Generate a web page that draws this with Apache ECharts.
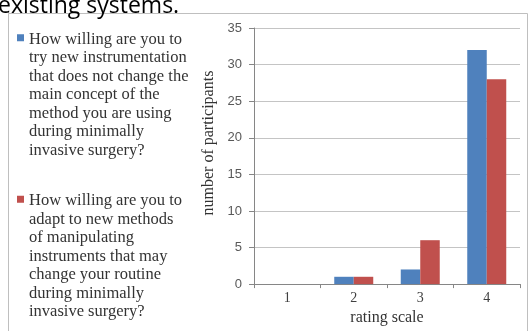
<!DOCTYPE html>
<html>
<head>
<meta charset="utf-8">
<style>
  html, body { margin: 0; padding: 0; background: #fff; }
  #chart { width: 531px; height: 331px; }
</style>
<script src="https://cdn.jsdelivr.net/npm/echarts@6/dist/echarts.min.js"></script>
</head>
<body>
<div id="chart"></div>
<script>
  // rating categories on the x axis
  const categories = ['1', '2', '3', '4']
  // number of participants per rating
  const tryNewInstruments = [0, 1, 2, 32]
  const adaptNewMethods = [0, 1, 6, 28]
  const yTicks = { min: 0, max: 35, interval: 5 }

  const question1 = [
    'How willing are you to',
    'try new instrumentation',
    'that does not change the',
    'main concept of the',
    'method you are using',
    'during minimally',
    'invasive surgery?'
  ].join('\n')
  const question2 = [
    'How willing are you to',
    'adapt to new methods',
    'of manipulating',
    'instruments that may',
    'change your routine',
    'during minimally',
    'invasive surgery?'
  ].join('\n')

  // legend marker sits on the first text line; tiny corner dots stretch the box
  const markerIcon = 'path://M0,0L0.01,0L0.01,0.01Z M0,3.5H7V10.5H0Z M0,128L0.01,128L0.01,127.99Z'

  const axisGray = '#868686'
  const serif = 'Liberation Serif'

  const chart = echarts.init(document.getElementById('chart'))
  const option = {
    animation: false,
    backgroundColor: '#fff',
    graphic: [
      {
        type: 'text',
        left: -2,
        top: -5,
        style: {
          text: 'existing systems.',
          font: '23px "Open Sans"',
          fill: '#000'
        }
      },
      {
        type: 'rect',
        shape: { x: 8.5, y: 13.5, width: 519, height: 330 },
        style: { fill: 'none', stroke: '#bfbfbf', lineWidth: 1 },
        z: -1
      }
    ],
    legend: {
      orient: 'vertical',
      left: 17,
      top: 30,
      padding: 0,
      icon: markerIcon,
      itemWidth: 7,
      itemHeight: 128,
      itemGap: 32,
      selectedMode: false,
      textStyle: {
        fontFamily: serif,
        fontSize: 16.5,
        lineHeight: 18.5,
        color: '#333'
      },
      data: [question1, question2]
    },
    grid: {
      left: 254,
      right: 11,
      top: 28,
      bottom: 43
    },
    xAxis: {
      type: 'category',
      data: categories,
      name: 'rating scale',
      nameLocation: 'middle',
      nameGap: 20,
      nameTextStyle: { fontFamily: serif, fontSize: 16, color: '#333' },
      axisLine: { lineStyle: { color: axisGray } },
      axisTick: { show: true, length: 4, lineStyle: { color: axisGray } },
      axisLabel: { fontFamily: serif, fontSize: 14, color: '#404040', margin: 7 }
    },
    yAxis: {
      type: 'value',
      min: yTicks.min,
      max: yTicks.max,
      interval: yTicks.interval,
      name: 'number of participants',
      nameLocation: 'middle',
      nameGap: 32,
      nameTextStyle: { fontFamily: serif, fontSize: 16, color: '#333', padding: [0, 0, 0, 26] },
      axisLine: { show: true, lineStyle: { color: axisGray } },
      axisTick: { show: true, length: 5, lineStyle: { color: axisGray } },
      axisLabel: { fontFamily: 'Liberation Sans', fontSize: 13, color: '#595959', margin: 12 },
      splitLine: { lineStyle: { color: '#c4c4c4' } }
    },
    series: [
      {
        name: question1,
        type: 'bar',
        data: tryNewInstruments,
        barWidth: 19.5,
        barGap: '0%',
        itemStyle: { color: '#4F81BD' }
      },
      {
        name: question2,
        type: 'bar',
        data: adaptNewMethods,
        barWidth: 19.5,
        barGap: '0%',
        itemStyle: { color: '#C0504D' }
      }
    ]
  }
  chart.setOption(option)
</script>
</body>
</html>
